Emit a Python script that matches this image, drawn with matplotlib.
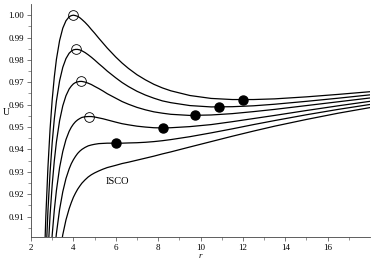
import matplotlib
matplotlib.use("Agg")
import matplotlib.pyplot as plt

# radius samples and effective potential U(r) for each angular momentum curve
r = [2.6, 2.7, 2.8, 2.9, 3.0, 3.1, 3.2, 3.35, 3.5, 3.65, 3.8, 3.9, 4.0, 4.1, 4.2, 4.3,
     4.4, 4.55, 4.7, 4.85, 5.0, 5.2, 5.4, 5.6, 5.8, 6.0, 6.3, 6.6, 7.0, 7.4, 7.8, 8.2,
     8.6, 9.5, 10.5, 11.5, 12.5, 13.5, 15, 16.5, 18]

U_a = [0.8814, 0.9101, 0.9321, 0.9491, 0.9622, 0.9724, 0.9803, 0.9887, 0.9942, 0.9975,
       0.9993, 0.9998, 1.0000, 0.9998, 0.9995, 0.9989, 0.9981, 0.9968, 0.9953, 0.9936,
       0.9920, 0.9897, 0.9875, 0.9853, 0.9833, 0.9813, 0.9786, 0.9762, 0.9734, 0.9711,
       0.9691, 0.9675, 0.9662, 0.9641, 0.9628, 0.9623, 0.9623, 0.9626, 0.9635, 0.9646, 0.9658]
U_b = [0.8622, 0.8907, 0.9127, 0.9298, 0.9431, 0.9536, 0.9617, 0.9707, 0.9767, 0.9806,
       0.9830, 0.9839, 0.9845, 0.9847, 0.9847, 0.9845, 0.9841, 0.9833, 0.9823, 0.9812,
       0.9800, 0.9783, 0.9767, 0.9750, 0.9735, 0.9720, 0.9699, 0.9681, 0.9660, 0.9643,
       0.9629, 0.9617, 0.9609, 0.9596, 0.9590, 0.9591, 0.9595, 0.9602, 0.9615, 0.9629, 0.9644]
U_c = [0.8431, 0.8714, 0.8934, 0.9107, 0.9242, 0.9349, 0.9434, 0.9529, 0.9595, 0.9640,
       0.9670, 0.9683, 0.9693, 0.9699, 0.9702, 0.9704, 0.9704, 0.9701, 0.9696, 0.9690,
       0.9682, 0.9672, 0.9661, 0.9649, 0.9639, 0.9629, 0.9614, 0.9602, 0.9588, 0.9577,
       0.9568, 0.9562, 0.9557, 0.9552, 0.9554, 0.9560, 0.9569, 0.9579, 0.9596, 0.9613, 0.9630]
U_d = [0.8205, 0.8486, 0.8706, 0.8880, 0.9018, 0.9129, 0.9217, 0.9319, 0.9391, 0.9444,
       0.9481, 0.9499, 0.9513, 0.9524, 0.9532, 0.9538, 0.9543, 0.9546, 0.9547, 0.9547,
       0.9545, 0.9541, 0.9537, 0.9532, 0.9527, 0.9522, 0.9515, 0.9510, 0.9504, 0.9500,
       0.9497, 0.9496, 0.9497, 0.9502, 0.9511, 0.9524, 0.9538, 0.9552, 0.9574, 0.9595, 0.9615]
U_isco = [0.8003, 0.8283, 0.8503, 0.8679, 0.8819, 0.8933, 0.9025, 0.9132, 0.9211, 0.9270,
          0.9313, 0.9336, 0.9354, 0.9369, 0.9382, 0.9392, 0.9400, 0.9409, 0.9416, 0.9420,
          0.9423, 0.9426, 0.9427, 0.9428, 0.9428, 0.9428, 0.9428, 0.9429, 0.9430, 0.9432,
          0.9435, 0.9439, 0.9444, 0.9457, 0.9474, 0.9492, 0.9511, 0.9529, 0.9555, 0.9579, 0.9601]
U_f = [0.7786, 0.8065, 0.8286, 0.8463, 0.8607, 0.8724, 0.8820, 0.8933, 0.9019, 0.9085,
       0.9135, 0.9162, 0.9186, 0.9205, 0.9222, 0.9236, 0.9249, 0.9264, 0.9277, 0.9287,
       0.9295, 0.9304, 0.9312, 0.9319, 0.9324, 0.9329, 0.9337, 0.9343, 0.9352, 0.9361,
       0.9370, 0.9380, 0.9389, 0.9411, 0.9435, 0.9459, 0.9482, 0.9504, 0.9534, 0.9562, 0.9587]

# unstable (maxima) and stable (minima) circular orbits
r_max = [4.0, 4.14, 4.34, 4.72]
U_max = [1.0, 0.9848, 0.9704, 0.9547]
r_min = [12.0, 10.87, 9.72, 8.24, 6.0]
U_min = [0.9623, 0.9590, 0.9552, 0.9496, 0.9428]

plt.rcParams['font.family'] = ['Liberation Serif', 'DejaVu Serif']

fig = plt.figure(figsize=(3.74, 2.61), dpi=100)
ax = fig.add_axes([0.0829, 0.0931, 0.9064, 0.8916])

for U in [U_a, U_b, U_c, U_d, U_isco, U_f]:
    ax.plot(r, U, color='black', lw=0.9, solid_joinstyle='round')

ax.plot(r_max, U_max, 'o', mfc='none', mec='black', mew=0.6, ms=7)
ax.plot(r_min, U_min, 'o', color='black', ms=6.5)

ax.text(6.1, 0.9256, 'ISCO', fontsize=7.5, ha='center', va='center')

ax.set_xlim(2, 18)
ax.set_ylim(0.901, 1.005)
ax.set_xticks([2, 4, 6, 8, 10, 12, 14, 16])
ax.set_xticks(range(3, 18, 2), minor=True)
ax.set_yticks([0.91, 0.92, 0.93, 0.94, 0.95, 0.96, 0.97, 0.98, 0.99, 1.00])
ax.set_yticks([0.905 + 0.01 * i for i in range(10)], minor=True)
ax.set_yticklabels(['0.91', '0.92', '0.93', '0.94', '0.95', '0.96', '0.97', '0.98', '0.99', '1.00'])

for s in ['top', 'right']:
    ax.spines[s].set_visible(False)
for s in ['left', 'bottom']:
    ax.spines[s].set_linewidth(0.6)
    ax.spines[s].set_color('#444444')

ax.tick_params(which='major', length=3, width=0.5, labelsize=6.5, pad=2, color='#444444')
ax.tick_params(which='minor', length=2, width=0.4, color='#444444')

ax.set_xlabel('r', fontsize=6.5, style='italic', labelpad=0)
ax.set_ylabel('U', fontsize=7, rotation=0)
ax.yaxis.set_label_coords(-0.074, 0.514)

fig.savefig('out.png', dpi=100)
